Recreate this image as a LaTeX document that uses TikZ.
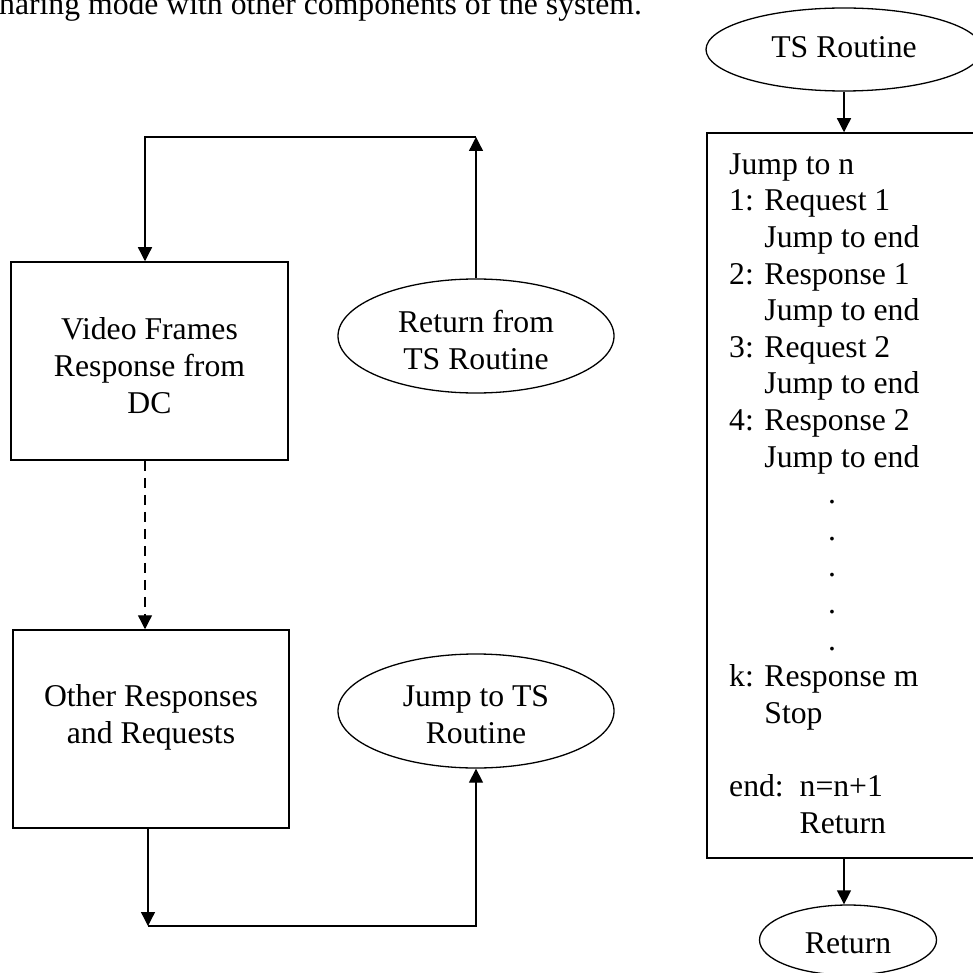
\documentclass[tikz,border=0pt]{standalone}
\usepackage{fontspec}
\setmainfont{Liberation Serif}
\usetikzlibrary{arrows.meta,shapes.geometric}
\begin{document}
\begin{tikzpicture}[x=1pt,y=-1pt,
  every node/.style={font=\fontsize{31.7}{36.6}\selectfont, inner sep=0pt},
  flowbox/.style={draw, line width=1.5pt, rectangle},
  oval/.style={draw, line width=1.3pt, ellipse},
  caption/.style={align=center, anchor=base},
  listing/.style={align=left, anchor=base west},
  link/.style={line width=1.3pt, -{Triangle[length=14pt,width=14pt]}},
]
\useasboundingbox (0,0) rectangle (973,973);

% running text above the chart
\node[anchor=base west] (intro) at (-1,15) {haring mode with other components of the system.};

% left loop (multi-line captions are placed by the baseline of their last line)
\node[flowbox, minimum width=277pt, minimum height=198pt] (video) at (149.5,361) {};
\node[caption] (videotxt) at (149.5,413) {Video Frames\\Response from\\DC};

\node[flowbox, minimum width=276pt, minimum height=198pt] (other) at (151,729) {};
\node[caption] (othertxt) at (151,743) {Other Responses\\and Requests};

\node[oval, minimum width=276pt, minimum height=114pt] (retfrom) at (476,336) {};
\node[caption] (retfromtxt) at (476,369) {Return from\\TS Routine};

\node[oval, minimum width=276pt, minimum height=114pt] (jump) at (476,711) {};
\node[caption] (jumptxt) at (476,743) {Jump to TS\\Routine};

\coordinate (topL) at (145,137);
\coordinate (topR) at (476,137);
\coordinate (botL) at (148,926);
\coordinate (botR) at (476,926);

\draw[link] (retfrom) -- (topR);
\draw[link] (topR) -- (topL) -- (topL |- video.north);
\draw[link, dash pattern=on 10pt off 7pt] (video.south -| topL) -- (other.north -| topL);
\draw[link] (other.south -| botL) -- (botL);
\draw[link] (botL) -- (botR) -- (jump);

% TS routine
\node[oval, minimum width=276pt, minimum height=83pt] (ts) at (844,49.5) {};
\node[caption] (tstxt) at (844,58) {TS Routine};

\node[flowbox, minimum width=274pt, minimum height=725pt] (tsbox) at (844,495.5) {};
\node[listing] (tsbody) at (729,833) {Jump to n\\
1: Request 1\\
\phantom{1: }Jump to end\\
2: Response 1\\
\phantom{1: }Jump to end\\
3: Request 2\\
\phantom{1: }Jump to end\\
4: Response 2\\
\phantom{1: }Jump to end\\
\hspace*{99pt}.\\
\hspace*{99pt}.\\
\hspace*{99pt}.\\
\hspace*{99pt}.\\
\hspace*{99pt}.\\
k: Response m\\
\phantom{k: }Stop\\
\mbox{}\\
end:\ \ n=n+1\\
\phantom{end:\ \ }Return};

\node[oval, minimum width=177pt, minimum height=70pt] (ret) at (848,940) {};
\node[caption] (rettxt) at (848,953) {Return};

\draw[link] (ts) -- (tsbox.north);
\draw[link] (tsbox.south) -- (tsbox.south |- ret.north);
\end{tikzpicture}
\end{document}
